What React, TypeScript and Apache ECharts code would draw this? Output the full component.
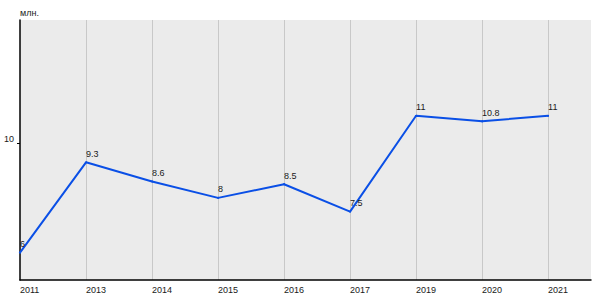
import React, { useEffect, useRef } from "react";
import * as echarts from "echarts";

const years: string[] = ["2011", "2013", "2014", "2015", "2016", "2017", "2019", "2020", "2021"];
const values: number[] = [6, 9.3, 8.6, 8, 8.5, 7.5, 11, 10.8, 11];
const yTicks: number[] = [10];
const yUnit = "млн.";

const FONT = "'Liberation Sans', Arial, sans-serif";

export default function App() {
  const ref = useRef<HTMLDivElement>(null);
  useEffect(() => {
    if (!ref.current) return;
    const chart = echarts.init(ref.current, undefined, { renderer: "svg" });
    chart.setOption({
      animation: false,
      backgroundColor: "#ffffff",
      grid: {
        left: 20,
        top: 20,
        right: 9,
        bottom: 20,
        show: true,
        backgroundColor: "#ebebeb",
        borderWidth: 0,
        containLabel: false,
      },
      xAxis: {
        type: "value",
        min: 0,
        max: years.length - 1 + 0.65,
        interval: 1,
        axisLine: { show: true, onZero: false, lineStyle: { color: "#000", width: 1.5 } },
        axisTick: { show: false },
        axisLabel: {
          formatter: (v: number) => (Number.isInteger(v) ? years[v] ?? "" : ""),
          align: "left",
          margin: 5,
          fontSize: 9,
          color: "#1a1a1a",
          fontFamily: FONT,
        },
        splitLine: {
          show: true,
          showMaxLine: false,
          showMinLine: false,
          lineStyle: { color: "#c8c8c8", width: 1 },
        },
      },
      yAxis: {
        type: "value",
        min: 5,
        max: 14.5,
        interval: 5,
        name: yUnit,
        nameLocation: "end",
        nameGap: 3,
        nameTextStyle: {
          align: "left",
          verticalAlign: "bottom",
          fontSize: 9,
          color: "#1a1a1a",
          fontFamily: FONT,
        },
        axisLine: { show: true, lineStyle: { color: "#000", width: 1.5 } },
        axisTick: { show: true, length: 3, customValues: yTicks, lineStyle: { color: "#000" } },
        axisLabel: {
          customValues: yTicks,
          margin: 6,
          fontSize: 9,
          color: "#1a1a1a",
          fontFamily: FONT,
          verticalAlign: "bottom",
          lineHeight: 9,
        },
        splitLine: {
          show: true,
          showMinLine: false,
          showMaxLine: false,
          lineStyle: { color: "#c8c8c8", width: 1 },
        },
      },
      series: [
        {
          type: "line",
          data: values.map((v, i) => [i, v]),
          symbol: "circle",
          symbolSize: 2,
          showSymbol: true,
          itemStyle: { color: "#0a4fe6", borderWidth: 0 },
          lineStyle: { color: "#0a4fe6", width: 2 },
          label: {
            show: true,
            position: "top",
            align: "left",
            distance: 3,
            fontSize: 9,
            color: "#1a1a1a",
            fontFamily: FONT,
            formatter: (p: any) => String(p.value[1]),
          },
          z: 3,
        },
      ],
    });
    return () => chart.dispose();
  }, []);
  return (
    <div
      ref={ref}
      style={{ position: "fixed", left: 0, top: 0, width: 600, height: 300 }}
    />
  );
}
